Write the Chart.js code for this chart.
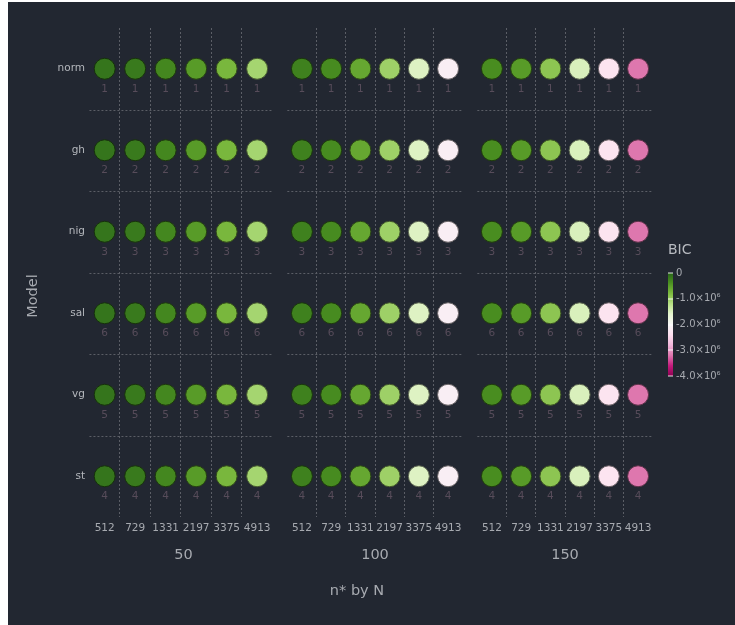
<!DOCTYPE html>
<html>
<head>
<meta charset="utf-8">
<script src="https://cdn.jsdelivr.net/npm/chart.js@4.4.1/dist/chart.umd.min.js"></script>
<style>
  html, body { margin: 0; background: #ffffff; }
  #wrap { position: absolute; left: 8px; top: 2px; width: 727px; height: 623px; background: #222731; }
</style>
</head>
<body>
<div id="wrap"><canvas id="bicChart" width="727" height="623"></canvas></div>
<script>
// data
var models = ["norm", "gh", "nig", "sal", "vg", "st"];
var ranks = [1, 2, 3, 6, 5, 4];
var nStar = [512, 729, 1331, 2197, 3375, 4913];
var panelN = [50, 100, 150];
var bic50 = [-150000, -190000, -300000, -490000, -750000, -1070000];
var bic100 = [-250000, -340000, -600000, -1020000, -1530000, -2160000];
var bic150 = [-360000, -490000, -900000, -1490000, -2330000, -3200000];
var bicTicks = [0, -1000000, -2000000, -3000000, -4000000];
var bicTickLabels = ["0", "-1.0×10⁶", "-2.0×10⁶", "-3.0×10⁶", "-4.0×10⁶"];
var bicMin = -4000000, bicMax = 0;

var panelBic = [bic50, bic100, bic150];
// per-panel axis width share and left limit (first panel starts right at the row labels)
var panelWeights = [193, 190, 190];
var panelMins = [-0.58, -0.75, -0.75];

var gridColor = "#5b5e66";
var tickColor = "#a7aab0";
var rankColor = "#574c5a";
var font = "'DejaVu Sans', sans-serif";

// PiYG, magenta (low) to green (high)
var piyg = ["#8e0152", "#c51b7d", "#de77ae", "#f1b6da", "#fde0ef", "#f7f7f7",
            "#e6f5d0", "#b8e186", "#7fbc41", "#4d9221", "#276419"];

function hexRgb(h) {
    return [parseInt(h.substr(1, 2), 16), parseInt(h.substr(3, 2), 16), parseInt(h.substr(5, 2), 16)];
}

function bicRgb(v) {
    var t = (v - bicMin) / (bicMax - bicMin);
    t = Math.max(0, Math.min(1, t)) * (piyg.length - 1);
    var i = Math.min(Math.floor(t), piyg.length - 2), f = t - i;
    var a = hexRgb(piyg[i]), b = hexRgb(piyg[i + 1]);
    return [0, 1, 2].map(function(k) { return Math.round(a[k] + (b[k] - a[k]) * f); });
}

function bicColor(v, shade) {
    var c = bicRgb(v).map(function(x) { return Math.round(x * shade); });
    return "rgb(" + c.join(",") + ")";
}

function panelData(p) {
    var pts = [];
    models.forEach(function(m, r) {
        nStar.forEach(function(n, c) {
            pts.push({ x: c, y: m, bic: panelBic[p][c], rank: ranks[r] });
        });
    });
    return pts;
}

var datasets = panelN.map(function(n, p) {
    return {
        label: "N=" + n,
        data: panelData(p),
        xAxisID: "x" + p,
        yAxisID: "y",
        pointRadius: 10.5,
        pointHoverRadius: 10.5,
        pointBorderWidth: 1,
        pointBackgroundColor: function(ctx) { return ctx.raw ? bicColor(ctx.raw.bic, 1) : "#fff"; },
        pointBorderColor: function(ctx) { return ctx.raw ? bicColor(ctx.raw.bic, 0.42) : "#000"; }
    };
});

function panelAxis(p) {
    return {
        type: "linear",
        position: "bottom",
        stack: "panels",
        stackWeight: panelWeights[p],
        min: panelMins[p],
        max: 5.75,
        afterBuildTicks: function(s) { s.ticks = nStar.map(function(n, i) { return { value: i }; }); },
        afterFit: function(s) { s.height = 60; },
        ticks: {
            autoSkip: false, maxRotation: 0, color: tickColor, padding: 5,
            font: { family: font, size: 10.5 },
            callback: function(v) { return nStar[v]; }
        },
        grid: {
            offset: true, drawTicks: false, lineWidth: 1,
            color: function(ctx) { return ctx.index >= 1 && ctx.index <= 5 ? gridColor : "transparent"; }
        },
        border: { display: false, dash: [2, 2] },
        title: {
            display: true, text: String(panelN[p]), color: tickColor,
            font: { family: font, size: 14.5 }, padding: { top: 0, bottom: 13 }
        }
    };
}

var scales = {
    y: {
        type: "category",
        labels: models,
        offset: true,
        position: "left",
        afterFit: function(s) { s.width = 79; },
        grid: { display: false, drawTicks: false },
        border: { display: false },
        ticks: { color: "#b4b7bc", padding: 2, font: { family: font, size: 10.5 } }
    }
};
panelN.forEach(function(n, p) { scales["x" + p] = panelAxis(p); });

var extras = {
    id: "extras",
    beforeDatasetsDraw: function(chart) {
        // dotted row separators, one set per panel
        var ctx = chart.ctx, ys = chart.scales.y;
        ctx.save();
        ctx.strokeStyle = gridColor;
        ctx.lineWidth = 1;
        ctx.setLineDash([2, 2]);
        panelN.forEach(function(n, p) {
            var xs = chart.scales["x" + p];
            var l = xs.getPixelForValue(-0.5), r = xs.getPixelForValue(5.5);
            for (var i = 1; i < models.length; i++) {
                var yy = Math.round((ys.getPixelForValue(i - 1) + ys.getPixelForValue(i)) / 2) + 0.5;
                ctx.beginPath();
                ctx.moveTo(l, yy);
                ctx.lineTo(r, yy);
                ctx.stroke();
            }
        });
        ctx.restore();
    },
    afterDatasetsDraw: function(chart) {
        // rank under each point
        var ctx = chart.ctx;
        ctx.save();
        ctx.fillStyle = rankColor;
        ctx.font = "10.5px " + font;
        ctx.textAlign = "center";
        ctx.textBaseline = "middle";
        chart.data.datasets.forEach(function(ds, d) {
            chart.getDatasetMeta(d).data.forEach(function(pt, i) {
                ctx.fillText(String(ds.data[i].rank), pt.x, pt.y + 20.5);
            });
        });
        ctx.restore();
    },
    afterDraw: function(chart) {
        var ctx = chart.ctx;
        ctx.save();
        ctx.fillStyle = tickColor;
        ctx.font = "14.5px " + font;
        ctx.textAlign = "center";
        ctx.textBaseline = "middle";
        ctx.fillText("n* by N", 349, 589);
        ctx.translate(25, 294);
        ctx.rotate(-Math.PI / 2);
        ctx.fillText("Model", 0, 0);
        ctx.restore();

        // colour bar
        var bx = 660, bw = 5, top = 271, bot = 374;
        ctx.save();
        for (var yy = top; yy < bot; yy++) {
            var v = bicMax - (yy + 0.5 - top) / (bot - top) * (bicMax - bicMin);
            ctx.fillStyle = bicColor(v, 1);
            ctx.fillRect(bx, yy, bw, 1);
        }
        ctx.fillStyle = "#b8bbc0";
        ctx.font = "14px " + font;
        ctx.textAlign = "left";
        ctx.textBaseline = "middle";
        ctx.fillText("BIC", 660, 248);
        ctx.font = "10px " + font;
        bicTicks.forEach(function(t, i) {
            var ty = top + (bicMax - t) / (bicMax - bicMin) * (bot - top);
            ctx.fillStyle = "rgba(255,255,255,0.85)";
            ctx.fillRect(bx, Math.round(ty) - 0.5, bw, 1);
            ctx.fillStyle = tickColor;
            ctx.fillText(bicTickLabels[i], 668, ty);
        });
        ctx.restore();
    }
};

new Chart(document.getElementById("bicChart"), {
    type: "scatter",
    data: { datasets: datasets },
    options: {
        responsive: false,
        animation: false,
        layout: { padding: { top: 26, right: 75, bottom: 48, left: 0 } },
        plugins: { legend: { display: false }, tooltip: { enabled: false } },
        scales: scales
    },
    plugins: [extras]
});
</script>
</body>
</html>
